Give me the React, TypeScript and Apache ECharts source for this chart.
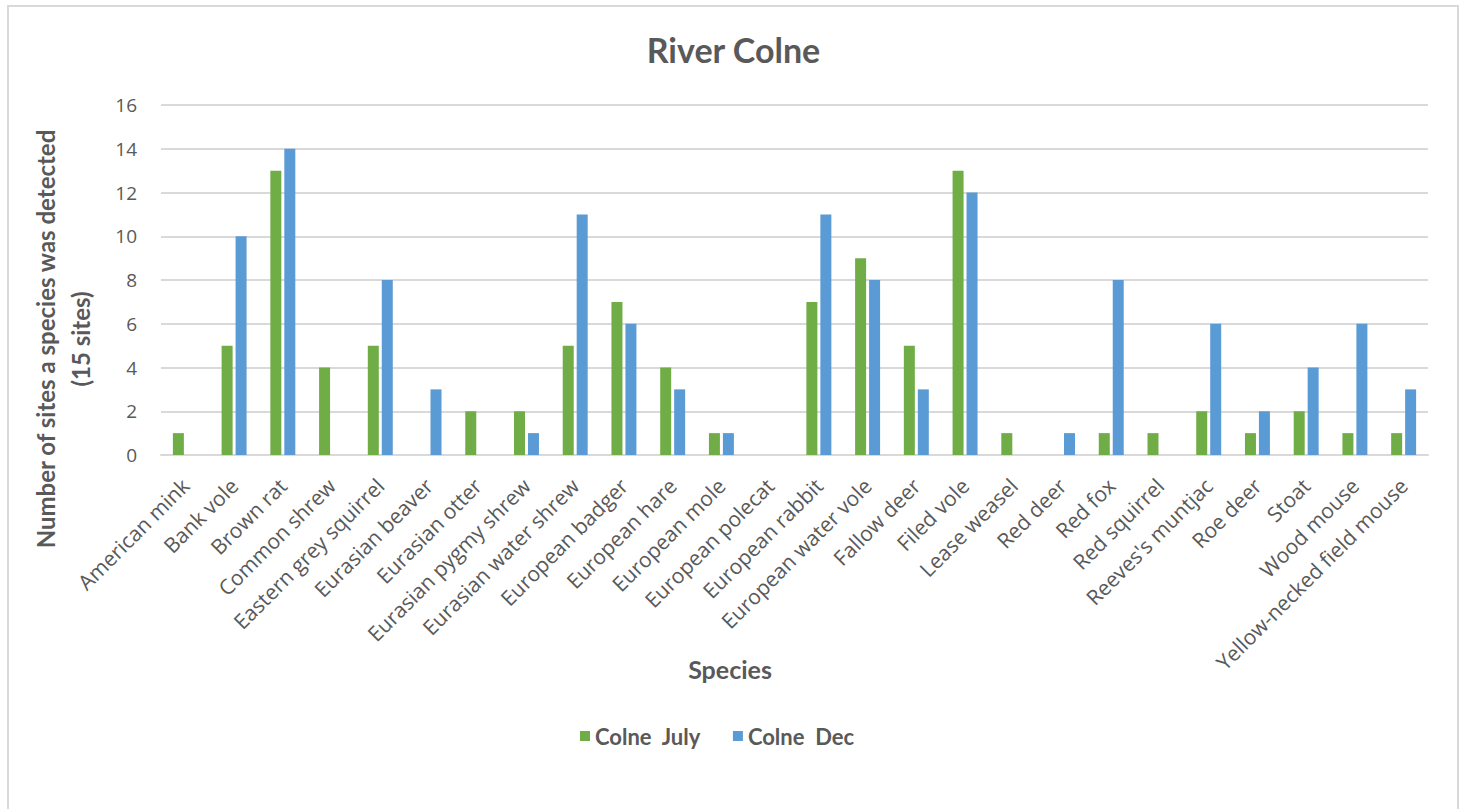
import React, { useEffect, useRef } from "react";
import * as echarts from "echarts";

// Species surveyed along the River Colne
const species = [
  "American mink",
  "Bank vole",
  "Brown rat",
  "Common shrew",
  "Eastern grey squirrel",
  "Eurasian beaver",
  "Eurasian otter",
  "Eurasian pygmy shrew",
  "Eurasian water shrew",
  "European badger",
  "European hare",
  "European mole",
  "European polecat",
  "European rabbit",
  "European water vole",
  "Fallow deer",
  "Filed vole",
  "Lease weasel",
  "Red deer",
  "Red fox",
  "Red squirrel",
  "Reeves's muntjac",
  "Roe deer",
  "Stoat",
  "Wood mouse",
  "Yellow-necked field mouse",
];

// Number of sites (out of 15) where each species was detected
const colneJuly = [1, 5, 13, 4, 5, 0, 2, 2, 5, 7, 4, 1, 0, 7, 9, 5, 13, 1, 0, 1, 1, 2, 1, 2, 1, 1];
const colneDec = [0, 10, 14, 0, 8, 3, 0, 1, 11, 6, 3, 1, 0, 11, 8, 3, 12, 0, 1, 8, 0, 6, 2, 4, 6, 3];

const seriesNames = ["Colne  July", "Colne  Dec"];
const yTicks = { min: 0, max: 16, interval: 2 };

const GREEN = "#70AD47";
const BLUE = "#5B9BD5";
const TEXT = "#595959";
const GRID = "#d9d9d9";
const TITLE_FONT = "Lato, 'Open Sans', sans-serif";
const LABEL_FONT = "'Open Sans', 'Noto Sans', sans-serif";

export default function App() {
  const ref = useRef<HTMLDivElement>(null);

  useEffect(() => {
    if (!ref.current) return;
    const chart = echarts.init(ref.current, null, { renderer: "svg" });
    chart.setOption({
      animation: false,
      backgroundColor: "#ffffff",
      title: [
        {
          text: "River Colne",
          left: "center",
          top: 27,
          textStyle: { fontFamily: TITLE_FONT, fontSize: 34, fontWeight: "bold", color: TEXT },
        },
        {
          text: "Species",
          left: 725,
          top: 651,
          textAlign: "center",
          textStyle: { fontFamily: TITLE_FONT, fontSize: 25, fontWeight: "bold", color: TEXT },
        },
      ],
      graphic: [
        {
          type: "rect",
          shape: { x: 8, y: 6, width: 1450, height: 820 },
          style: { fill: "none", stroke: GRID, lineWidth: 2 },
          silent: true,
        },
        {
          // vertical axis title, placed where the original chart had it
          type: "text",
          x: 63,
          y: 339,
          rotation: Math.PI / 2,
          silent: true,
          style: {
            text: "Number of sites a species was detected\n(15 sites)",
            fontFamily: TITLE_FONT,
            fontSize: 24,
            fontWeight: "bold",
            fill: TEXT,
            lineHeight: 35,
            align: "center",
            verticalAlign: "middle",
          },
        },
      ],
      legend: {
        data: seriesNames,
        left: 575,
        top: 720,
        icon: "rect",
        itemWidth: 10,
        itemHeight: 10,
        itemGap: 32,
        textStyle: { fontFamily: TITLE_FONT, fontSize: 22, fontWeight: "bold", color: TEXT },
      },
      grid: { left: 161, right: 39, top: 105, bottom: 354, containLabel: false },
      xAxis: {
        type: "category",
        data: species,
        axisLine: { lineStyle: { color: GRID, width: 2 } },
        axisTick: { show: false },
        axisLabel: {
          interval: 0,
          rotate: 45,
          margin: 27,
          fontFamily: LABEL_FONT,
          fontSize: 21,
          color: TEXT,
        },
      },
      yAxis: {
        type: "value",
        min: yTicks.min,
        max: yTicks.max,
        interval: yTicks.interval,
        axisLine: { show: false },
        axisTick: { show: false },
        axisLabel: { margin: 24, fontFamily: LABEL_FONT, fontSize: 19, color: TEXT },
        splitLine: { lineStyle: { color: GRID, width: 2 } },
      },
      series: [
        {
          name: seriesNames[0],
          type: "bar",
          data: colneJuly,
          barWidth: 11,
          barGap: "27%",
          itemStyle: { color: GREEN },
        },
        {
          name: seriesNames[1],
          type: "bar",
          data: colneDec,
          barWidth: 11,
          itemStyle: { color: BLUE },
        },
      ],
    });
    return () => chart.dispose();
  }, []);

  return (
    <div
      ref={ref}
      style={{ position: "absolute", left: 0, top: 0, width: 1467, height: 809 }}
    />
  );
}
